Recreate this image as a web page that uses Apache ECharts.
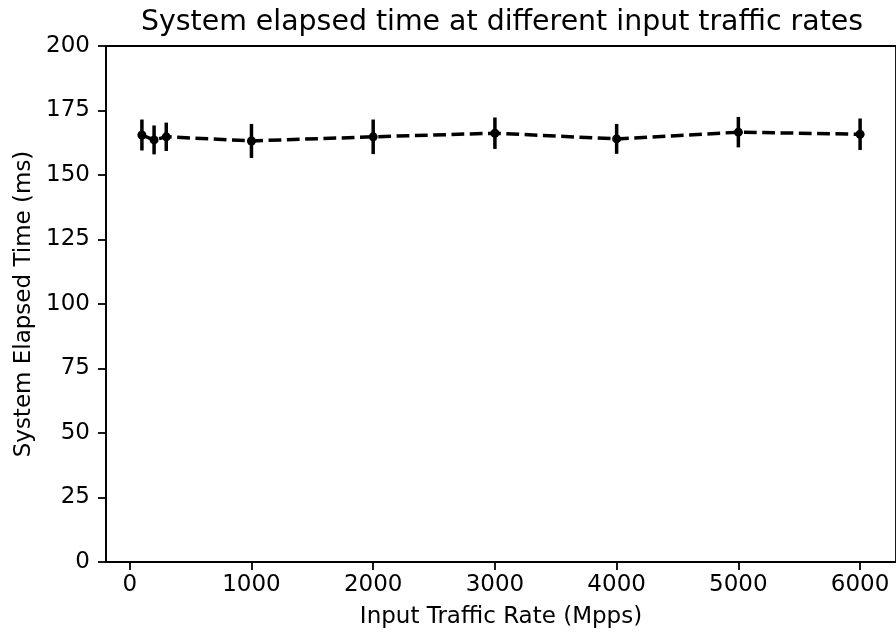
<!DOCTYPE html>
<html>
<head>
<meta charset="utf-8">
<script src="https://cdn.jsdelivr.net/npm/echarts@6/dist/echarts.min.js"></script>
<style>
html, body { margin: 0; padding: 0; background: #fff; }
#main { width: 896px; height: 636px; }
</style>
</head>
<body>
<div id="main"></div>
<script>
// data
var rates   = [100, 200, 300, 1000, 2000, 3000, 4000, 5000, 6000];      // Mpps
var elapsed = [165.5, 163.6, 164.8, 163.2, 164.8, 166.2, 164.0, 166.6, 165.8]; // ms
var errors  = [6.0, 5.6, 5.5, 6.6, 6.7, 6.1, 5.8, 5.9, 6.1];             // +/- ms
var xTicks  = [0, 1000, 2000, 3000, 4000, 5000, 6000];

var FONT = 'DejaVu Sans';
var lineData = rates.map(function (r, i) { return [r, elapsed[i]]; });
var errData  = rates.map(function (r, i) { return [r, elapsed[i] - errors[i], elapsed[i] + errors[i]]; });

var chart = echarts.init(document.getElementById('main'), null, { renderer: 'canvas' });

var option = {
	backgroundColor: '#fff',
	animation: false,
	title: {
		text: 'System elapsed time at different input traffic rates',
		left: 497,
		top: 4,
		textAlign: 'center',
		textStyle: { fontFamily: FONT, fontSize: 28.4, fontWeight: 'normal', color: '#000' }
	},
	grid: {
		left: 106, right: -2, top: 46, bottom: 74,
		show: true, borderColor: '#000', borderWidth: 1.8, backgroundColor: 'transparent'
	},
	xAxis: {
		type: 'value',
		min: -195, max: 6295,
		name: 'Input Traffic Rate (Mpps)',
		nameLocation: 'middle',
		nameGap: 44,
		nameTextStyle: { fontFamily: FONT, fontSize: 23, color: '#000' },
		axisLine: { show: true, onZero: false, lineStyle: { color: '#000', width: 1.8 } },
		axisTick: { show: true, length: 8, lineStyle: { color: '#000', width: 1.8 }, customValues: xTicks },
		axisLabel: {
			fontFamily: FONT, fontSize: 23, color: '#000', margin: 12, customValues: xTicks,
			formatter: function (v) { return String(v); }
		},
		splitLine: { show: false }
	},
	yAxis: {
		type: 'value',
		min: 0, max: 200, interval: 25,
		name: 'System Elapsed Time (ms)',
		nameLocation: 'middle',
		nameGap: 68,
		nameTextStyle: { fontFamily: FONT, fontSize: 23, color: '#000' },
		axisLine: { show: true, onZero: false, lineStyle: { color: '#000', width: 1.8 } },
		axisTick: { show: true, length: 8, lineStyle: { color: '#000', width: 1.8 } },
		axisLabel: { fontFamily: FONT, fontSize: 23, color: '#000', margin: 16 },
		splitLine: { show: false }
	},
	series: [
		{
			// vertical error bars, no caps
			type: 'custom',
			data: errData,
			z: 3,
			renderItem: function (params, api) {
				var lo = api.coord([api.value(0), api.value(1)]);
				var hi = api.coord([api.value(0), api.value(2)]);
				return {
					type: 'line',
					shape: { x1: lo[0], y1: lo[1], x2: hi[0], y2: hi[1] },
					style: { stroke: '#000', lineWidth: 3.5 }
				};
			}
		},
		{
			type: 'line',
			data: lineData,
			z: 4,
			symbol: 'circle',
			symbolSize: 9,
			itemStyle: { color: '#000', borderWidth: 0 },
			lineStyle: { color: '#000', width: 3.5, type: [12.8, 5.5] }
		}
	]
};
chart.setOption(option);
</script>
</body>
</html>
